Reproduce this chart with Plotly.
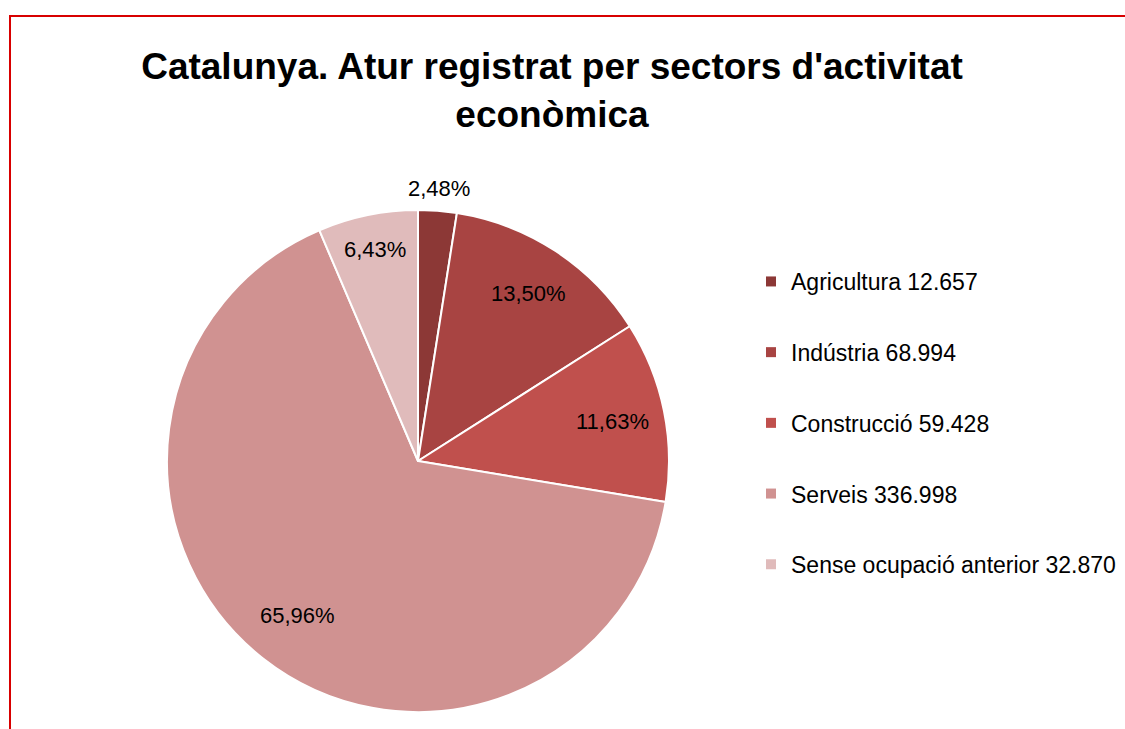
import math
import plotly.graph_objects as go

sectors = ["Agricultura", "Indústria", "Construcció", "Serveis", "Sense ocupació anterior"]
values = [12657, 68994, 59428, 336998, 32870]
colors = ["#8C3836", "#A84442", "#C0504D", "#D09291", "#E0BBBB"]
# radial position of each percentage label, as a fraction of the pie radius
label_radius = [1.09, 0.80, 0.79, 0.78, 0.86]

total = sum(values)
pct_text = [f"{v / total * 100:.2f}".replace(".", ",") + "%" for v in values]
value_text = [f"{v:,}".replace(",", ".") for v in values]
legend_labels = [f"{s} {t}" for s, t in zip(sectors, value_text)]

W, H = 1125, 729
# pie box in pixels
PX0, PX1, PY0, PY1 = 167, 669, 210, 712
cx, cy = (PX0 + PX1) / 2, (PY0 + PY1) / 2
R = (PX1 - PX0) / 2

fig = go.Figure()
fig.add_trace(go.Pie(
    labels=legend_labels,
    values=values,
    textinfo="none",
    sort=False,
    direction="clockwise",
    rotation=0,
    marker=dict(colors=colors, line=dict(color="white", width=2)),
    domain=dict(x=[PX0 / W, PX1 / W], y=[1 - PY1 / H, 1 - PY0 / H]),
    hoverinfo="label+percent",
    showlegend=False,
))

# legend entries (one per sector)
for i, (lab, col) in enumerate(zip(legend_labels, colors)):
    fig.add_trace(go.Scatter(
        x=[None], y=[None], mode="markers",
        marker=dict(symbol="square", size=10, color=col),
        name=lab, legendgroup=f"g{i}", showlegend=True, hoverinfo="skip",
    ))

# percentage labels placed along each slice's mid angle
annotations = []
cum = 0
for v, t, rf in zip(values, pct_text, label_radius):
    mid = (cum + v / 2) / total * 2 * math.pi
    cum += v
    x = cx + rf * R * math.sin(mid)
    y = cy - rf * R * math.cos(mid)
    annotations.append(dict(
        x=x / W, y=1 - y / H, xref="paper", yref="paper",
        text=t, showarrow=False, xanchor="center", yanchor="middle",
        font=dict(family="Liberation Sans", size=22, color="black"),
    ))

fig.update_layout(
    width=W, height=H,
    margin=dict(l=0, r=0, t=0, b=0),
    paper_bgcolor="white",
    plot_bgcolor="white",
    xaxis=dict(visible=False),
    yaxis=dict(visible=False),
    title=dict(
        text="Catalunya. Atur registrat per sectors d'activitat<br>econòmica",
        x=552 / W, xanchor="center",
        y=1 - 79 / H, yanchor="top",
        font=dict(family="Liberation Sans", size=37, color="black", weight="bold"),
    ),
    legend=dict(
        x=751 / W, xanchor="left",
        y=1 - 260 / H, yanchor="top",
        tracegroupgap=37.8,
        font=dict(family="Liberation Sans", size=23, color="black"),
        bgcolor="rgba(0,0,0,0)",
    ),
    annotations=annotations,
    shapes=[dict(
        type="rect", xref="paper", yref="paper",
        x0=10 / W, x1=1.05, y0=-0.05, y1=1 - 16 / H,
        line=dict(color="#D80000", width=2),
        fillcolor="rgba(0,0,0,0)",
    )],
)

fig.write_html(
    "out.html",
    config={"displayModeBar": False},
    post_script="document.body.style.margin='0px';",
)
